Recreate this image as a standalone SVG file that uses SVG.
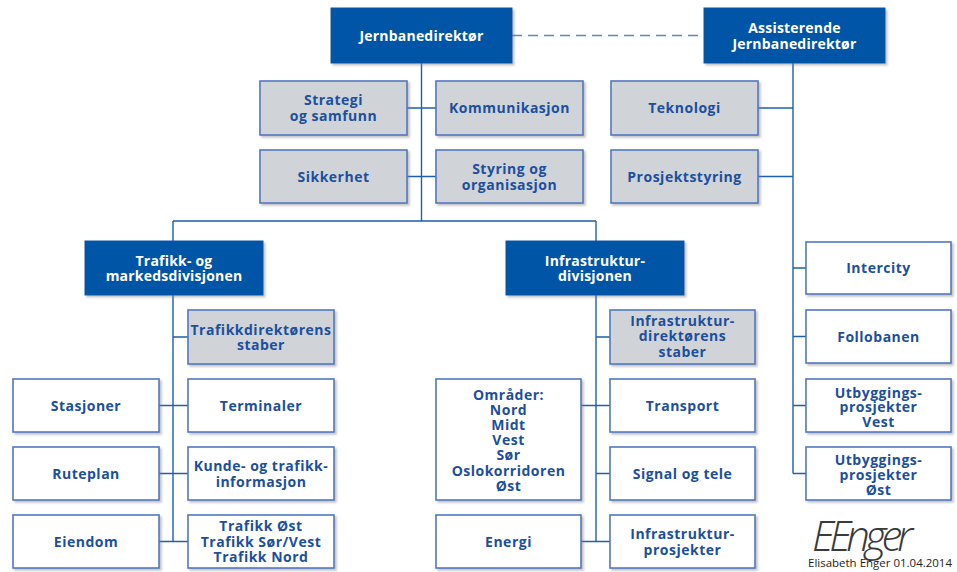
<svg xmlns="http://www.w3.org/2000/svg" width="957" height="572" viewBox="0 0 957 572">
  <style>
    text { font-family: "Open Sans", "Noto Sans", "Liberation Sans", sans-serif; font-weight: 700; font-size: 14px; text-anchor: middle; letter-spacing: 0.5px; }
    .dark rect { fill: #0455a6; stroke: #0455a6; stroke-width: 1; }
    .dark text { fill: #ffffff; letter-spacing: 0.2px; }
    .grey rect { fill: #d0d4d9; stroke: #5278c0; stroke-width: 1.6; }
    .white rect { fill: #ffffff; stroke: #5278c0; stroke-width: 1.6; }
    .grey text, .white text { fill: #1c4f9c; }
    .node rect { filter: url(#shadow); }
    #connectors path { fill: none; stroke: #1f5fae; stroke-width: 1.4; }
    #connectors .dash { stroke: #5a86c4; stroke-width: 1.7; stroke-dasharray: 10 6; }
    .sig { font-family: "Open Sans", sans-serif; font-style: italic; font-weight: 300; font-size: 42px; fill: #3a3a3a; letter-spacing: -5px; text-anchor: start; }
    .caption { font-family: "Open Sans", sans-serif; font-weight: 400; font-size: 10px; fill: #222; text-anchor: start; letter-spacing: 0; }
  </style>
  <defs>
    <filter id="shadow" x="-5%" y="-5%" width="115%" height="125%">
      <feDropShadow dx="2" dy="2" stdDeviation="1.2" flood-color="#7a7a7a" flood-opacity="0.45"/>
    </filter>
  </defs>

  <rect width="957" height="572" fill="#ffffff"/>

  <!-- connector lines -->
  <g id="connectors">
    <path class="dash" d="M512 35.5 H704"/>
    <path d="M421.5 63 V221 M407 108 H436 M407 176.5 H436"/>
    <path d="M173 221 H596 M173 221 V241 M596 221 V241"/>
    <path d="M173 295 V541.5 M173 337 H188 M159 405.5 H188 M159 473.5 H188 M159 541.5 H188"/>
    <path d="M596 295 V541.5 M596 337 H610 M581 405.5 H610 M596 473.5 H610 M581 541.5 H610"/>
    <path d="M793 63 V473.5 M758 108 H793 M758 176.5 H793 M793 268 H806 M793 336.5 H806 M793 405.5 H806 M793 473.5 H806"/>
  </g>

  <!-- top management -->
  <g id="jernbanedirektor" class="node dark">
    <rect x="331" y="8" width="181" height="55"/>
    <text x="421.5" y="40.5">Jernbanedirektør</text>
  </g>
  <g id="assisterende" class="node dark">
    <rect x="704" y="8" width="181" height="55"/>
    <text x="794.5" y="32.5">Assisterende<tspan x="794.5" dy="16">Jernbanedirektør</tspan></text>
  </g>

  <!-- staff units -->
  <g id="strategi" class="node grey">
    <rect x="260" y="81" width="147" height="54"/>
    <text x="333.5" y="105">Strategi<tspan x="333.5" dy="15.5">og samfunn</tspan></text>
  </g>
  <g id="kommunikasjon" class="node grey">
    <rect x="436" y="81" width="147" height="54"/>
    <text x="509.5" y="113">Kommunikasjon</text>
  </g>
  <g id="sikkerhet" class="node grey">
    <rect x="260" y="150" width="147" height="53"/>
    <text x="333.5" y="181.5">Sikkerhet</text>
  </g>
  <g id="styring" class="node grey">
    <rect x="436" y="150" width="147" height="53"/>
    <text x="509.5" y="174">Styring og<tspan x="509.5" dy="15.5">organisasjon</tspan></text>
  </g>
  <g id="teknologi" class="node grey">
    <rect x="611" y="81" width="147" height="54"/>
    <text x="684.5" y="113">Teknologi</text>
  </g>
  <g id="prosjektstyring" class="node grey">
    <rect x="611" y="150" width="147" height="53"/>
    <text x="684.5" y="181.5">Prosjektstyring</text>
  </g>

  <!-- divisions -->
  <g id="trafikkdivisjon" class="node dark">
    <rect x="85" y="241" width="178" height="54"/>
    <text x="174" y="265.5">Trafikk- og<tspan x="174" dy="15">markedsdivisjonen</tspan></text>
  </g>
  <g id="infradivisjon" class="node dark">
    <rect x="506" y="241" width="178" height="54"/>
    <text x="595" y="265.5">Infrastruktur-<tspan x="595" dy="15">divisjonen</tspan></text>
  </g>

  <!-- traffic and market division -->
  <g id="trafikkstaber" class="node grey">
    <rect x="188" y="310" width="146" height="54"/>
    <text x="261" y="335">Trafikkdirektørens<tspan x="261" dy="15">staber</tspan></text>
  </g>
  <g id="stasjoner" class="node white">
    <rect x="13" y="379" width="146" height="53"/>
    <text x="86" y="410.5">Stasjoner</text>
  </g>
  <g id="terminaler" class="node white">
    <rect x="188" y="379" width="146" height="53"/>
    <text x="261" y="410.5">Terminaler</text>
  </g>
  <g id="ruteplan" class="node white">
    <rect x="13" y="447" width="146" height="53"/>
    <text x="86" y="478.5">Ruteplan</text>
  </g>
  <g id="kundeinfo" class="node white">
    <rect x="188" y="447" width="146" height="53"/>
    <text x="261" y="470.5">Kunde- og trafikk-<tspan x="261" dy="16">informasjon</tspan></text>
  </g>
  <g id="eiendom" class="node white">
    <rect x="13" y="515" width="146" height="53"/>
    <text x="86" y="546.5">Eiendom</text>
  </g>
  <g id="trafikkregioner" class="node white">
    <rect x="188" y="515" width="146" height="53"/>
    <text x="261" y="531">Trafikk Øst<tspan x="261" dy="15.5">Trafikk Sør/Vest</tspan><tspan x="261" dy="15.5">Trafikk Nord</tspan></text>
  </g>

  <!-- infrastructure division -->
  <g id="infrastaber" class="node grey">
    <rect x="610" y="310" width="145" height="54"/>
    <text x="682.5" y="326">Infrastruktur-<tspan x="682.5" dy="15.3">direktørens</tspan><tspan x="682.5" dy="15.3">staber</tspan></text>
  </g>
  <g id="omrader" class="node white">
    <rect x="436" y="379" width="145" height="121"/>
    <text x="508.5" y="399.5">Områder:<tspan x="508.5" dy="15.2">Nord</tspan><tspan x="508.5" dy="15.2">Midt</tspan><tspan x="508.5" dy="15.2">Vest</tspan><tspan x="508.5" dy="15.2">Sør</tspan><tspan x="508.5" dy="15.2">Oslokorridoren</tspan><tspan x="508.5" dy="15.2">Øst</tspan></text>
  </g>
  <g id="transport" class="node white">
    <rect x="610" y="379" width="145" height="53"/>
    <text x="682.5" y="410.5">Transport</text>
  </g>
  <g id="signal" class="node white">
    <rect x="610" y="447" width="145" height="53"/>
    <text x="682.5" y="478.5">Signal og tele</text>
  </g>
  <g id="energi" class="node white">
    <rect x="436" y="515" width="145" height="53"/>
    <text x="508.5" y="546.5">Energi</text>
  </g>
  <g id="infraprosjekter" class="node white">
    <rect x="610" y="515" width="145" height="53"/>
    <text x="682.5" y="539">Infrastruktur-<tspan x="682.5" dy="16">prosjekter</tspan></text>
  </g>

  <!-- projects under the assistant director -->
  <g id="intercity" class="node white">
    <rect x="806" y="242" width="145" height="52"/>
    <text x="878.5" y="273">Intercity</text>
  </g>
  <g id="follobanen" class="node white">
    <rect x="806" y="310" width="145" height="53"/>
    <text x="878.5" y="341.5">Follobanen</text>
  </g>
  <g id="utbygging-vest" class="node white">
    <rect x="806" y="379" width="145" height="53"/>
    <text x="878.5" y="397.5">Utbyggings-<tspan x="878.5" dy="14.8">prosjekter</tspan><tspan x="878.5" dy="14.8">Vest</tspan></text>
  </g>
  <g id="utbygging-ost" class="node white">
    <rect x="806" y="447" width="145" height="53"/>
    <text x="878.5" y="465">Utbyggings-<tspan x="878.5" dy="15">prosjekter</tspan><tspan x="878.5" dy="15">Øst</tspan></text>
  </g>

  <!-- signature -->
  <g id="signature">
    <text class="sig" x="812" y="551">EEnger</text>
    <text class="caption" x="808" y="567" textLength="144" lengthAdjust="spacingAndGlyphs">Elisabeth Enger 01.04.2014</text>
  </g>
</svg>
